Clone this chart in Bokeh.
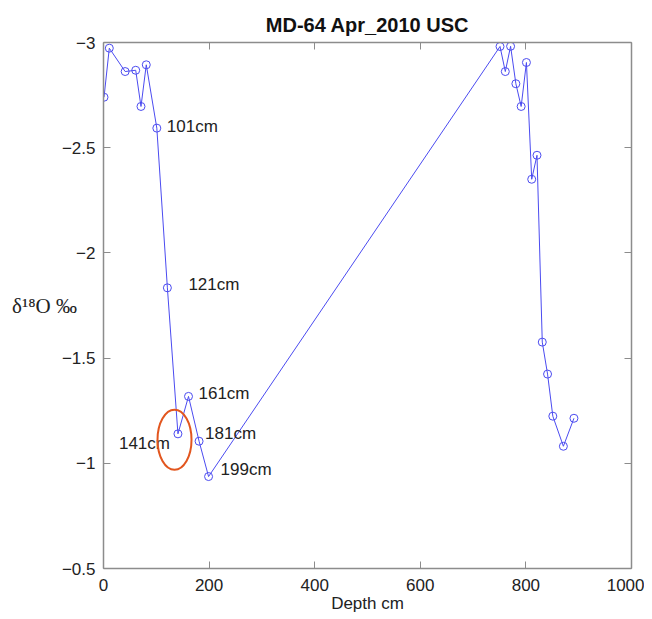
from bokeh.plotting import figure
from bokeh.models import Range1d, LinearAxis, FixedTicker, ColumnDataSource
from bokeh.core.properties import value
from bokeh.embed import file_html
from bokeh.resources import INLINE

# ---- data ----
depth = [1, 11, 41, 61, 71, 81, 101, 121, 141, 161, 181, 199,
         751, 761, 771, 781, 791, 801, 811, 821, 831, 841, 851, 871, 891]
d18o = [-2.74, -2.973, -2.862, -2.868, -2.696, -2.894, -2.593, -1.834, -1.140, -1.318, -1.105, -0.937,
        -2.981, -2.862, -2.982, -2.804, -2.696, -2.905, -2.35, -2.464, -1.576, -1.424, -1.224, -1.081, -1.214]

label_text = ["101cm", "121cm", "141cm", "161cm", "181cm", "199cm"]
label_depth = [101, 121, 141, 161, 181, 199]

circle_x = [134.5]
circle_y = [-1.112]

xticks = [0, 200, 400, 600, 800, 1000]
yticks = [-3, -2.5, -2, -1.5, -1, -0.5]
ytick_labels = ["\u22123", "\u22122.5", "\u22122", "\u22121.5", "\u22121", "\u22120.5"]

FONT = "Liberation Sans"
AX = "#8c8c8c"
TXT = "#222222"
BLUE = "#4b4bf0"

p = figure(width=644, height=615, output_backend="svg", toolbar_location=None,
           x_range=Range1d(0, 1000), y_range=Range1d(-0.5, -3),
           x_axis_location=None, y_axis_location=None,
           min_border_left=103, min_border_right=13, min_border_top=42, min_border_bottom=47,
           title="MD-64 Apr_2010 USC")
p.title.align = "center"
p.title.vertical_align = "top"
p.title.text_font = FONT
p.title.text_font_size = "20px"
p.title.text_font_style = "bold"
p.title.text_color = "#111111"
p.title.standoff = 10
p.grid.visible = False
p.outline_line_color = None
p.background_fill_color = "white"
p.border_fill_color = "white"


def style_axis(ax):
    ax.axis_line_color = AX
    ax.axis_line_width = 1.5
    ax.major_tick_line_color = AX
    ax.major_tick_in = 7
    ax.major_tick_out = 0
    ax.minor_tick_line_color = None
    ax.major_label_text_font = FONT
    ax.major_label_text_font_size = "17px"
    ax.major_label_text_color = TXT
    ax.major_label_standoff = 8


# bottom axis
xb = LinearAxis(ticker=FixedTicker(ticks=xticks))
style_axis(xb)
xb.major_label_standoff = 10
xb.axis_label = "Depth cm"
xb.axis_label_text_font = FONT
xb.axis_label_text_font_size = "17px"
xb.axis_label_text_font_style = "normal"
xb.axis_label_text_color = TXT
xb.axis_label_standoff = 0
p.add_layout(xb, "below")

# left axis
yl = LinearAxis(ticker=FixedTicker(ticks=yticks))
style_axis(yl)
yl.major_label_overrides = {t: s for t, s in zip(yticks, ytick_labels)}
yl.axis_label = "\u03b4\u00b9\u2078O \u2030"
yl.axis_label_orientation = "horizontal"
yl.axis_label_text_font = "Liberation Serif"
yl.axis_label_text_font_size = "21px"
yl.axis_label_text_font_style = "normal"
yl.axis_label_text_color = TXT
yl.axis_label_standoff = -18
p.add_layout(yl, "left")

# top and right frame axes (tick marks only)
xt = LinearAxis(ticker=FixedTicker(ticks=xticks))
style_axis(xt)
xt.major_label_overrides = {t: "" for t in xticks}
xt.major_label_standoff = 0
p.add_layout(xt, "above")
yr = LinearAxis(ticker=FixedTicker(ticks=yticks))
style_axis(yr)
yr.major_label_overrides = {t: "" for t in yticks}
yr.major_label_standoff = 0
p.add_layout(yr, "right")

# series
p.line(depth, d18o, line_color=BLUE, line_width=1)
p.scatter(depth, d18o, marker="circle", size=8, fill_color=None, line_color=BLUE, line_width=1)

# depth labels
lookup = dict(zip(depth, d18o))
offs_x = {"101cm": 10, "121cm": 21, "141cm": -8, "161cm": 10, "181cm": 6, "199cm": 12}
offs_y = {"101cm": -2, "121cm": -3, "141cm": 10, "161cm": -3, "181cm": -8, "199cm": -7}
src = ColumnDataSource(dict(
    x=label_depth, y=[lookup[d] for d in label_depth], text=label_text,
    xo=[offs_x[t] for t in label_text], yo=[offs_y[t] for t in label_text],
    align=["right" if t == "141cm" else "left" for t in label_text]))
p.text(x="x", y="y", text="text", x_offset="xo", y_offset="yo", text_align="align",
       source=src, text_baseline="middle", text_font=value(FONT), text_font_size="17px",
       text_color=TXT)

# highlight ellipse
p.ellipse(x=circle_x, y=circle_y, width=34, height=60, width_units="screen", height_units="screen",
          fill_color=None, line_color="#e2561f", line_width=2)

open("out.html", "w").write(file_html(p, INLINE))
